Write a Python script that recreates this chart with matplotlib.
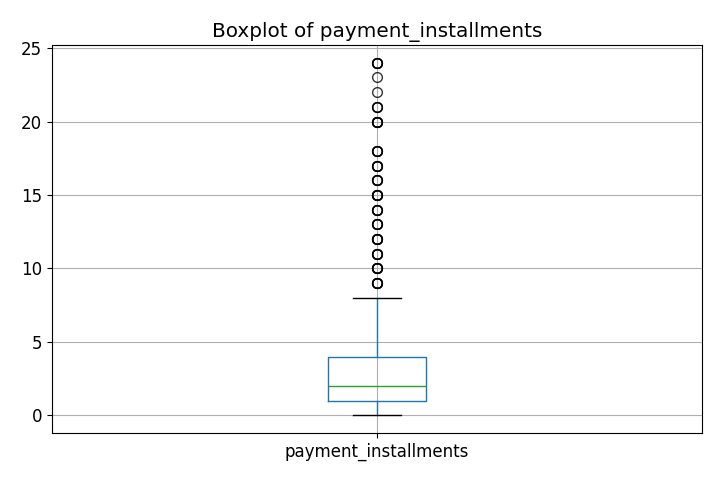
import matplotlib
matplotlib.use("Agg")
import matplotlib.pyplot as plt

label = "payment_installments"
q1, median, q3 = 1, 2, 4
whislo, whishi = 0, 8
# outliers (repeated values drawn thicker in reference)
flier_values = [9]*5 + [10]*5 + [11]*4 + [12]*5 + [13]*4 + [14]*4 + [15]*5 + [16]*4 + [17]*4 + [18]*4 + [20]*5 + [21]*3 + [22] + [23] + [24]*4

stats = [dict(label=label, q1=q1, med=median, q3=q3, whislo=whislo, whishi=whishi, fliers=flier_values)]

fig, ax = plt.subplots(figsize=(7.2, 4.8), dpi=100)
ax.bxp(stats,
       boxprops=dict(color="#1f77b4"),
       whiskerprops=dict(color="#1f77b4"),
       medianprops=dict(color="#2ca02c"),
       capprops=dict(color="k"),
       flierprops=dict(marker="o", markersize=7, markerfacecolor="none", markeredgecolor="k", alpha=0.8))
ax.grid(True)
ax.set_title("Boxplot of payment_installments", fontsize=14.4)
ax.tick_params(labelsize=12)
fig.subplots_adjust(left=0.072, right=0.975, top=0.906, bottom=0.098)
fig.savefig("out.png")
